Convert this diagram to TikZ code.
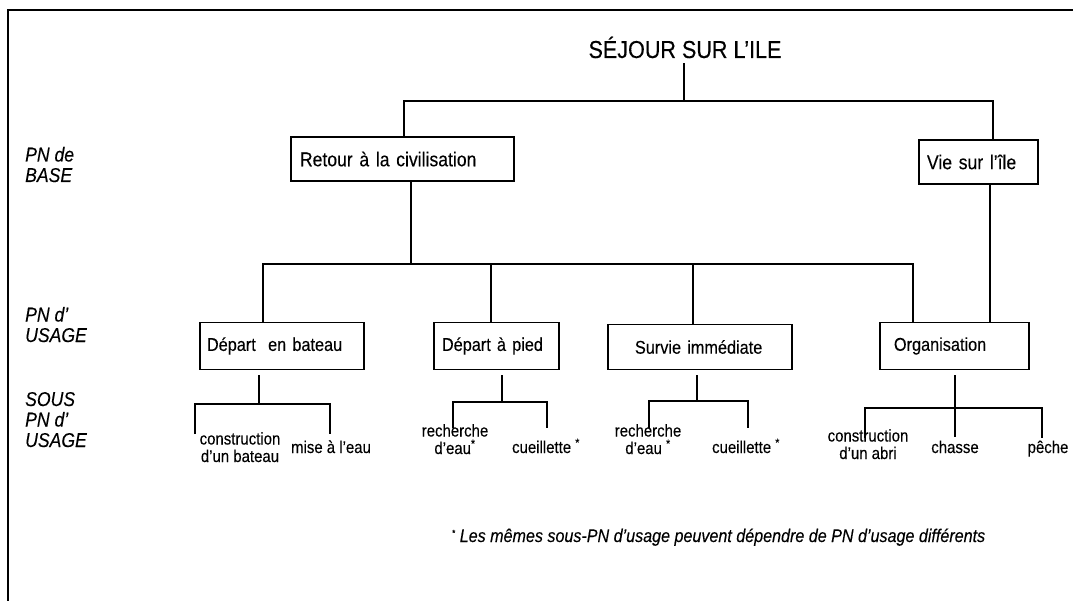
\documentclass[tikz,border=0pt]{standalone}
\usepackage{fontspec}
\setmainfont{Liberation Sans}[FakeStretch=0.88, FakeBold=0.2]
\begin{document}
\begin{tikzpicture}[x=1pt,y=-1pt,
  ln/.style={line width=1.7pt},
  box/.style={draw, line width=1.9pt, inner ysep=0pt, align=left, anchor=west},
  boxa/.style={box, font=\fontsize{20}{22}\selectfont},
  boxb/.style={box, font=\fontsize{18.5}{21}\selectfont},
  leaf/.style={align=center, inner sep=1pt, anchor=base, font=\fontsize{17}{17.5}\selectfont},
  lab/.style={align=left, anchor=base west, inner sep=0pt, font=\itshape\fontsize{20}{20.5}\selectfont}]
\useasboundingbox (0,0) rectangle (1073,601);
\draw[line width=2.6pt] (8,601) -- (8,10) -- (1073,10);

% title
\node[font=\fontsize{24.5}{28}\selectfont, anchor=base, inner sep=5pt] (title) at (685,58) {SÉJOUR SUR L'ILE};

% level 1
\node[boxa, minimum height=44pt, inner xsep=9pt, text width=205pt] (retour) at (290,159) {Retour à la civilisation};
\node[boxa, minimum height=44pt, inner xsep=8pt, text width=103pt] (vie) at (918,162) {Vie sur l'île};

% level 2
\node[boxb, minimum height=47pt, inner xsep=7pt, text width=150pt] (bateau) at (199,346) {Départ\ \ en bateau};
\node[boxb, minimum height=47pt, inner xsep=8pt, text width=109pt] (pied) at (433,346) {Départ à pied};
\node[boxb, minimum height=45pt, inner xsep=27pt, text width=130pt] (survie) at (607,347) {Survie immédiate};
\node[boxb, minimum height=47pt, inner xsep=14pt, text width=121pt] (org) at (879,346) {Organisation};

% left labels
\node[lab] (lb1) at (25,182) {PN de\\BASE};
\node[lab] (lb2) at (25,342) {PN d'\\USAGE};
\node[lab] (lb3) at (25,447) {SOUS\\PN d'\\USAGE};

% leaves
\node[leaf] (l1) at (240,462) {construction\\d'un bateau};
\node[leaf] (l2) at (331,453) {mise à l'eau};
\node[leaf] (l3) at (455,454) {recherche\\d'eau\textsuperscript{*}};
\node[leaf] (l4) at (546,453) {cueillette \textsuperscript{*}};
\node[leaf] (l5) at (648,454) {recherche\\d'eau \textsuperscript{*}};
\node[leaf] (l6) at (746,453) {cueillette \textsuperscript{*}};
\node[leaf] (l7) at (868,459) {construction\\d'un abri};
\node[leaf] (l8) at (955,453) {chasse};
\node[leaf] (l9) at (1048,453) {pêche};

% footnote
\node[anchor=base west, inner sep=0pt, font=\itshape\fontsize{18.3}{20}\selectfont] (note) at (452,542)
  {\raisebox{6pt}{\upshape\small *}\ Les mêmes sous-PN d'usage peuvent dépendre de PN d'usage différents};

% connectors, top
\coordinate (tj) at (684,101);
\coordinate (t1) at (404,101);
\coordinate (t2) at (993,101);
\draw[ln] (title.south -| tj) -- (tj);
\draw[ln] (retour.north -| t1) -- (t1) -- (t2) -- (vie.north -| t2);

% level 1 -> level 2
\coordinate (r) at (411,264);
\coordinate (a1) at (263,264);
\coordinate (a2) at (491,264);
\coordinate (a3) at (693,264);
\coordinate (a4) at (913,264);
\draw[ln] (retour.south -| r) -- (r);
\draw[ln] (bateau.north -| a1) -- (a1) -- (a4) -- (org.north -| a4);
\draw[ln] (a2) -- (pied.north -| a2);
\draw[ln] (a3) -- (survie.north -| a3);
\coordinate (v) at (990,300);
\draw[ln] (vie.south -| v) -- (org.north -| v);

% level 2 -> leaves
\coordinate (b0) at (259,404);
\coordinate (b1) at (195,404);
\coordinate (b2) at (330,404);
\coordinate (b1e) at (195,434);
\coordinate (b2e) at (330,434);
\draw[ln, shorten <=5pt] (bateau.south -| b0) -- (b0);
\draw[ln] (b1e) -- (b1) -- (b2) -- (b2e);

\coordinate (c0) at (502,402);
\coordinate (c1) at (453,402);
\coordinate (c2) at (547,402);
\coordinate (c1e) at (453,428);
\coordinate (c2e) at (547,428);
\draw[ln, shorten <=5pt] (pied.south -| c0) -- (c0);
\draw[ln] (c1e) -- (c1) -- (c2) -- (c2e);

\coordinate (d0) at (697,401);
\coordinate (d1) at (649,401);
\coordinate (d2) at (748,401);
\coordinate (d1e) at (649,428);
\coordinate (d2e) at (748,428);
\draw[ln, shorten <=5pt] (survie.south -| d0) -- (d0);
\draw[ln] (d1e) -- (d1) -- (d2) -- (d2e);

\coordinate (e0) at (955,437);
\coordinate (e1) at (865,408);
\coordinate (e2) at (1042,408);
\coordinate (e1e) at (865,438);
\coordinate (e2e) at (1042,438);
\draw[ln, shorten <=5pt] (org.south -| e0) -- (e0);
\draw[ln] (e1e) -- (e1) -- (e2) -- (e2e);
\end{tikzpicture}
\end{document}
